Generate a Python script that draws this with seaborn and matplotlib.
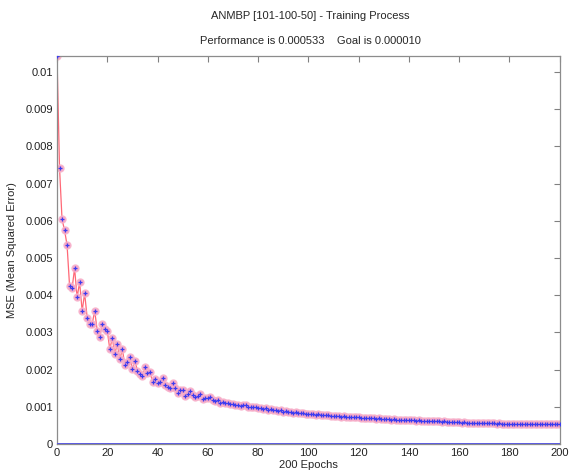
import numpy as np
import matplotlib
matplotlib.use("Agg")
import matplotlib.pyplot as plt
import pandas as pd
import seaborn as sns

# training record
epochs = list(range(201))
mse = [
    0.01043, 0.00743, 0.00604, 0.00575, 0.00535, 0.00425, 0.00419, 0.00472, 0.00394, 0.00435,
    0.00358, 0.00405, 0.00340, 0.00324, 0.00323, 0.00358, 0.00305, 0.00287, 0.00324, 0.00310,
    0.00305, 0.00255, 0.00285, 0.00243, 0.00269, 0.00228, 0.00255, 0.00212, 0.00222, 0.00233,
    0.00201, 0.00224, 0.00197, 0.00188, 0.00183, 0.00206, 0.00190, 0.00194, 0.00168, 0.00174,
    0.00163, 0.00166, 0.00179, 0.00160, 0.00154, 0.00150, 0.00163, 0.00152, 0.00138, 0.00146,
    0.00145, 0.00129, 0.00136, 0.00143, 0.00131, 0.00126, 0.00130, 0.00134, 0.00120, 0.00125,
    0.00123, 0.00126, 0.00118, 0.00116, 0.00119, 0.00111, 0.00114, 0.00110, 0.00111, 0.00107,
    0.00109, 0.00105, 0.00106, 0.00103, 0.00104, 0.00105, 0.00101, 0.00100, 0.00099, 0.00101,
    0.00096, 0.00097, 0.00095, 0.00096, 0.00093, 0.00094, 0.00091, 0.00092, 0.00090, 0.00091,
    0.00087, 0.00089, 0.00086, 0.00087, 0.00085, 0.00086, 0.00084, 0.00083, 0.00084, 0.00081,
    0.00081, 0.00080, 0.00081, 0.00079, 0.00080, 0.00078, 0.00079, 0.00077, 0.00077, 0.00076,
    0.00076, 0.00075, 0.00076, 0.00074, 0.00075, 0.00073, 0.00074, 0.00072, 0.00073, 0.00072,
    0.00072, 0.00071, 0.00071, 0.00070, 0.00071, 0.00069, 0.00070, 0.00068, 0.00069, 0.00068,
    0.00068, 0.00067, 0.00068, 0.00066, 0.00067, 0.00066, 0.00066, 0.00065, 0.00066, 0.00064,
    0.00065, 0.00064, 0.00064, 0.00063, 0.00064, 0.00062, 0.00063, 0.00062, 0.00062, 0.00061,
    0.00062, 0.00061, 0.00061, 0.00060, 0.00061, 0.00060, 0.00060, 0.00059, 0.00060, 0.00059,
    0.00059, 0.00058, 0.00059, 0.00058, 0.00058, 0.00057, 0.00058, 0.00057, 0.00057, 0.00056,
    0.00057, 0.00056, 0.00056, 0.00056, 0.00056, 0.00055, 0.00056, 0.00055, 0.00055, 0.00055,
    0.00055, 0.00054, 0.00055, 0.00054, 0.00054, 0.00054, 0.00054, 0.00053, 0.00054, 0.00053,
    0.00054, 0.00053, 0.00053, 0.00053, 0.00053, 0.00053, 0.00053, 0.00053, 0.00053, 0.00053,
    0.000533,
]
goal = 0.00001
performance = 0.000533

x_ticks = [0, 20, 40, 60, 80, 100, 120, 140, 160, 180, 200]
y_ticks = [0, 0.001, 0.002, 0.003, 0.004, 0.005, 0.006, 0.007, 0.008, 0.009, 0.01]
y_tick_labels = ["0", "0.001", "0.002", "0.003", "0.004", "0.005",
                 "0.006", "0.007", "0.008", "0.009", "0.01"]

df = pd.DataFrame({"Epoch": epochs, "MSE": mse})

sns.set_style("white")
plt.rcParams["font.family"] = ["Liberation Sans", "DejaVu Sans"]
plt.rcParams["font.size"] = 8

fig = plt.figure(figsize=(5.7, 4.74), dpi=100)
ax = fig.add_axes([0.1, 0.063, 0.882, 0.819])

sns.lineplot(data=df, x="Epoch", y="MSE", ax=ax, color="#ff4d5e", linewidth=0.9,
             marker="o", markersize=5.2, markerfacecolor="#f59cc0",
             markeredgecolor="#f7b3cc", markeredgewidth=0.8, alpha=0.85)
sns.scatterplot(data=df, x="Epoch", y="MSE", ax=ax, marker="+", color="#3c3cf0",
                s=10, linewidth=0.9, zorder=4)
ax.axhline(goal, color="#5a5ae0", linewidth=1.4, zorder=5)

ax.set_xlim(0, 200)
ax.set_ylim(0, mse[0])
ax.set_xticks(x_ticks)
ax.set_yticks(y_ticks)
ax.set_yticklabels(y_tick_labels)
ax.tick_params(direction="in", length=4, color="#808080", labelsize=8,
               labelcolor="#222222", top=True, right=True, pad=3)
for s in ax.spines.values():
    s.set_color("#8c8c8c")
    s.set_linewidth(0.9)

ax.set_xlabel("200 Epochs", fontsize=8, labelpad=1)
ax.set_ylabel("MSE (Mean Squared Error)", fontsize=8, labelpad=6)

fig.text(0.544, 0.966, "ANMBP [101-100-50] - Training Process", ha="center", va="center", fontsize=8)
fig.text(0.544, 0.913, f"Performance is {performance:.6f}    Goal is {goal:.6f}",
         ha="center", va="center", fontsize=8)

fig.savefig("out.png", dpi=100)
plt.close(fig)
